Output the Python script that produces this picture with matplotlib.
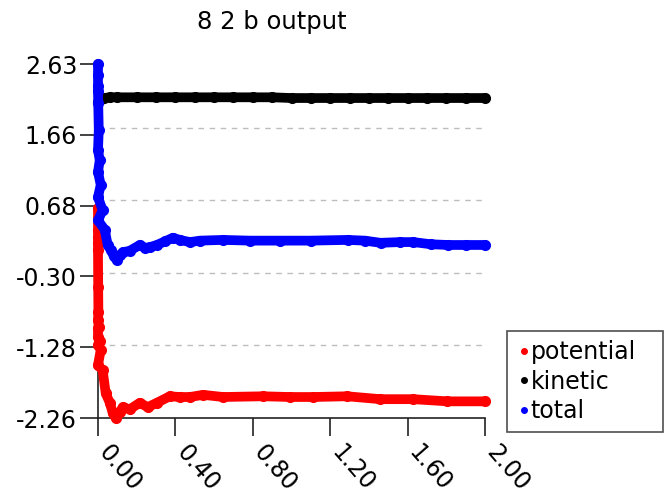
import matplotlib
matplotlib.use("Agg")
import matplotlib.pyplot as plt
from matplotlib.lines import Line2D

# values
t_total = [0.000, 0.000, 0.000, 0.000, 0.001, 0.004, 0.000, 0.009, 0.000, 0.014, 0.000,
           0.024, 0.000, 0.035, 0.050, 0.066, 0.081, 0.097, 0.112, 0.128, 0.164, 0.216,
           0.242, 0.268, 0.304, 0.346, 0.387, 0.423, 0.475, 0.527, 0.646, 0.786, 0.940,
           1.100, 1.290, 1.380, 1.460, 1.560, 1.630, 1.720, 1.810, 1.900, 2.000]
total = [2.63, 2.48, 2.33, 2.26, 2.09, 1.72, 1.44, 1.30, 1.14, 0.96, 0.79,
         0.61, 0.47, 0.34, 0.13, 0.06, -0.02, -0.08, -0.01, 0.03, 0.05, 0.13,
         0.09, 0.10, 0.13, 0.18, 0.23, 0.20, 0.17, 0.19, 0.20, 0.19, 0.19,
         0.19, 0.20, 0.19, 0.16, 0.17, 0.17, 0.14, 0.13, 0.13, 0.13]

t_kinetic = [0.000, 0.005, 0.015, 0.030, 0.060, 0.100, 0.200, 0.300, 0.400, 0.500, 0.600,
             0.700, 0.800, 0.900, 1.000, 1.100, 1.200, 1.300, 1.400, 1.500, 1.600,
             1.700, 1.800, 1.900, 2.000]
kinetic = [2.10, 2.13, 2.15, 2.16, 2.17, 2.17, 2.17, 2.17, 2.17, 2.17, 2.17,
           2.17, 2.17, 2.17, 2.16, 2.16, 2.16, 2.16, 2.16, 2.16, 2.16,
           2.16, 2.16, 2.16, 2.16]

t_potential = [0.000, 0.000, 0.000, 0.000, 0.000, 0.001, 0.002, 0.000, 0.004, 0.000, 0.000,
               0.008, 0.000, 0.014, 0.000, 0.024, 0.040, 0.061, 0.076, 0.092, 0.112,
               0.128, 0.164, 0.216, 0.257, 0.304, 0.371, 0.423, 0.475, 0.543, 0.646,
               0.853, 0.993, 1.112, 1.288, 1.459, 1.630, 1.806, 2.000]
potential = [0.64, 0.34, 0.24, 0.16, 0.06, -0.45, -0.80, -0.91, -1.00, -1.02, -1.14,
             -1.20, -1.25, -1.32, -1.53, -1.60, -1.92, -2.05, -2.19, -2.26, -2.18,
             -2.11, -2.14, -2.05, -2.11, -2.05, -1.96, -1.97, -1.97, -1.94, -1.97,
             -1.96, -1.97, -1.97, -1.96, -2.00, -2.00, -2.03, -2.03]

x_ticks = [0.0, 0.4, 0.8, 1.2, 1.6, 2.0]
x_labels = ["0.00", "0.40", "0.80", "1.20", "1.60", "2.00"]
y_ticks = [-2.26, -1.282, -0.304, 0.674, 1.652, 2.63]
y_labels = ["-2.26", "-1.28", "-0.30", "0.68", "1.66", "2.63"]
grid_levels = [1.745, 0.745, -0.255, -1.255]

plt.rcParams["font.family"] = ["DejaVu Sans"]
fs = 17

fig = plt.figure(figsize=(6.65, 5), dpi=100)
ax = fig.add_axes([98 / 665, 82 / 500, 387 / 665, 354 / 500])

for lvl in grid_levels:
    ax.axhline(lvl, color="#bdbdbd", lw=1.0, ls=(0, (4, 4)), zorder=1)

series = [(t_potential, potential, "#ff0000", "potential"),
          (t_kinetic, kinetic, "#000000", "kinetic"),
          (t_total, total, "#0000ff", "total")]
handles = []
for t, v, c, name in series:
    ax.plot(t, v, color=c, lw=7, marker="o", ms=7, solid_capstyle="round",
            solid_joinstyle="round", clip_on=False, zorder=3)
    handles.append(Line2D([], [], color=c, ls="none", marker="o", ms=4, label=name))

ax.set_xlim(0, 2.0)
ax.set_ylim(-2.26, 2.63)
ax.set_xticks(x_ticks)
ax.set_xticklabels(x_labels, rotation=-49, ha="left", va="baseline",
                   rotation_mode="anchor", fontsize=fs)
ax.set_yticks(y_ticks)
ax.set_yticklabels(y_labels, fontsize=fs)
ax.tick_params(axis="both", direction="out", length=13, width=1.2, color="#222222")
ax.tick_params(axis="y", pad=2)
ax.tick_params(axis="x", pad=12.5)
for s in ["top", "right"]:
    ax.spines[s].set_visible(False)
for s in ["left", "bottom"]:
    ax.spines[s].set_linewidth(1.2)
    ax.spines[s].set_color("#222222")

fig.text(272 / 665, 1 - 22 / 500, "8 2 b output", ha="center", va="center", fontsize=fs + 0.5)

leg = fig.legend(handles=handles, loc="upper left",
                 bbox_to_anchor=(507 / 665, 73 / 500, 156 / 665, 96 / 500),
                 bbox_transform=fig.transFigure, mode="expand", fontsize=fs,
                 frameon=True, fancybox=False, borderaxespad=0, handlelength=0.6,
                 handletextpad=0.0, borderpad=0.4, labelspacing=0.22)
leg.get_frame().set_edgecolor("#222222")
leg.get_frame().set_linewidth(1.2)

fig.savefig("out.png", dpi=100)
